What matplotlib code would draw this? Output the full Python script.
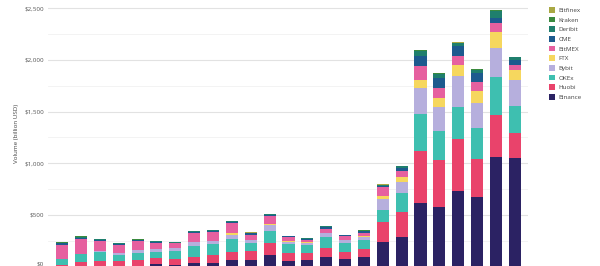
import numpy as np
import matplotlib
matplotlib.use('Agg')
import matplotlib.pyplot as plt
from matplotlib.patches import Patch

plt.rcParams['font.family'] = ['Open Sans', 'DejaVu Sans']

# monthly derivatives volume, billion USD
months = ['Jan 19', 'Feb 19', 'Mar 19', 'Apr 19', 'May 19', 'Jun 19', 'Jul 19', 'Aug 19',
          'Sep 19', 'Oct 19', 'Nov 19', 'Dec 19', 'Jan 20', 'Feb 20', 'Mar 20', 'Apr 20',
          'May 20', 'Jun 20', 'Jul 20', 'Aug 20', 'Sep 20', 'Oct 20', 'Nov 20', 'Dec 20', 'Jan 21']

binance = [0, 8, 6, 7, 6, 26, 19, 32, 36, 64, 65, 113, 55, 68, 90, 70, 90, 241, 284, 619, 575, 735, 677, 1059, 1049]
huobi = [10, 40, 52, 42, 58, 55, 55, 65, 71, 81, 84, 119, 78, 65, 87, 74, 78, 194, 248, 504, 452, 498, 362, 410, 248]
okex = [60, 74, 78, 61, 71, 58, 78, 97, 107, 119, 78, 116, 81, 71, 113, 81, 90, 113, 178, 356, 281, 310, 300, 365, 259]
bybit = [0, 0, 16, 19, 26, 32, 26, 42, 32, 42, 26, 55, 26, 26, 32, 32, 32, 104, 107, 249, 236, 303, 248, 281, 245]
ftx = [0, 0, 0, 0, 0, 0, 0, 3, 3, 22, 3, 5, 3, 3, 5, 3, 5, 32, 45, 80, 87, 107, 116, 151, 104]
bitmex = [136, 142, 97, 78, 84, 61, 45, 81, 81, 90, 52, 81, 39, 26, 39, 32, 32, 84, 64, 129, 97, 87, 87, 91, 48]
cme = [17, 17, 10, 12, 10, 10, 8, 14, 14, 12, 12, 10, 10, 12, 17, 10, 14, 14, 28, 97, 97, 90, 87, 48, 42]
deribit = [8, 8, 5, 6, 5, 5, 4, 7, 7, 6, 6, 5, 5, 6, 8, 5, 7, 7, 15, 55, 42, 33, 26, 71, 29]
kraken = [2, 2, 2, 2, 2, 2, 2, 2, 2, 3, 3, 3, 2, 2, 3, 2, 3, 4, 5, 6, 5, 5, 5, 6, 4]
bitfinex = [1, 1, 1, 1, 1, 1, 1, 1, 1, 1, 1, 1, 1, 1, 1, 1, 1, 2, 2, 3, 3, 3, 3, 4, 3]

names = ['Binance', 'Huobi', 'OKEx', 'Bybit', 'FTX', 'BitMEX', 'CME', 'Deribit', 'Kraken', 'Bitfinex']
series = [binance, huobi, okex, bybit, ftx, bitmex, cme, deribit, kraken, bitfinex]
colors = ['#2b2263', '#e9436b', '#3ebfb0', '#b6afdd', '#f6d75e', '#e6609f',
          '#1d5a8e', '#1f7f6d', '#3a8a3e', '#a9a843']

fig = plt.figure(figsize=(6, 2.66), dpi=100)
ax = fig.add_axes([0.08, -0.002, 0.8, 1.002])

x = np.arange(len(months))
bottom = np.zeros(len(months))
for name, vals, c in zip(names, series, colors):
    ax.bar(x, vals, 0.64, bottom=bottom, color=c, label=name, zorder=3)
    bottom += np.array(vals)

ax.set_xlim(-0.75, 24.7)
ax.set_ylim(0, 2580)
ax.set_yticks(np.arange(0, 2501, 500))
ax.set_yticklabels(['$0', '$500', '$1,000', '$1,500', '$2,000', '$2,500'])
ax.set_yticks(np.arange(250, 2500, 500), minor=True)
ax.grid(axis='y', which='major', color='#e2e2e2', lw=0.8, zorder=0)
ax.grid(axis='y', which='minor', color='#f1f1f1', lw=0.6, zorder=0)
ax.tick_params(axis='y', which='both', length=0, labelsize=4.5, labelcolor='#555555', pad=3)
ax.tick_params(axis='x', length=0, labelbottom=False)
ax.get_yticklabels()[0].set_va('bottom')
for s in ax.spines.values():
    s.set_visible(False)
ax.set_ylabel('Volume (billion USD)', fontsize=4.5, color='#444444', labelpad=4)

handles = [Patch(facecolor=c, label=n) for n, c in zip(names, colors)][::-1]
fig.legend(handles=handles, loc='upper left', bbox_to_anchor=(0.905, 0.995),
           frameon=False, fontsize=4.5, handlelength=1.0, handleheight=1.0,
           handletextpad=0.6, labelspacing=0.6, labelcolor='#444444')

fig.savefig('out.png', dpi=100)
